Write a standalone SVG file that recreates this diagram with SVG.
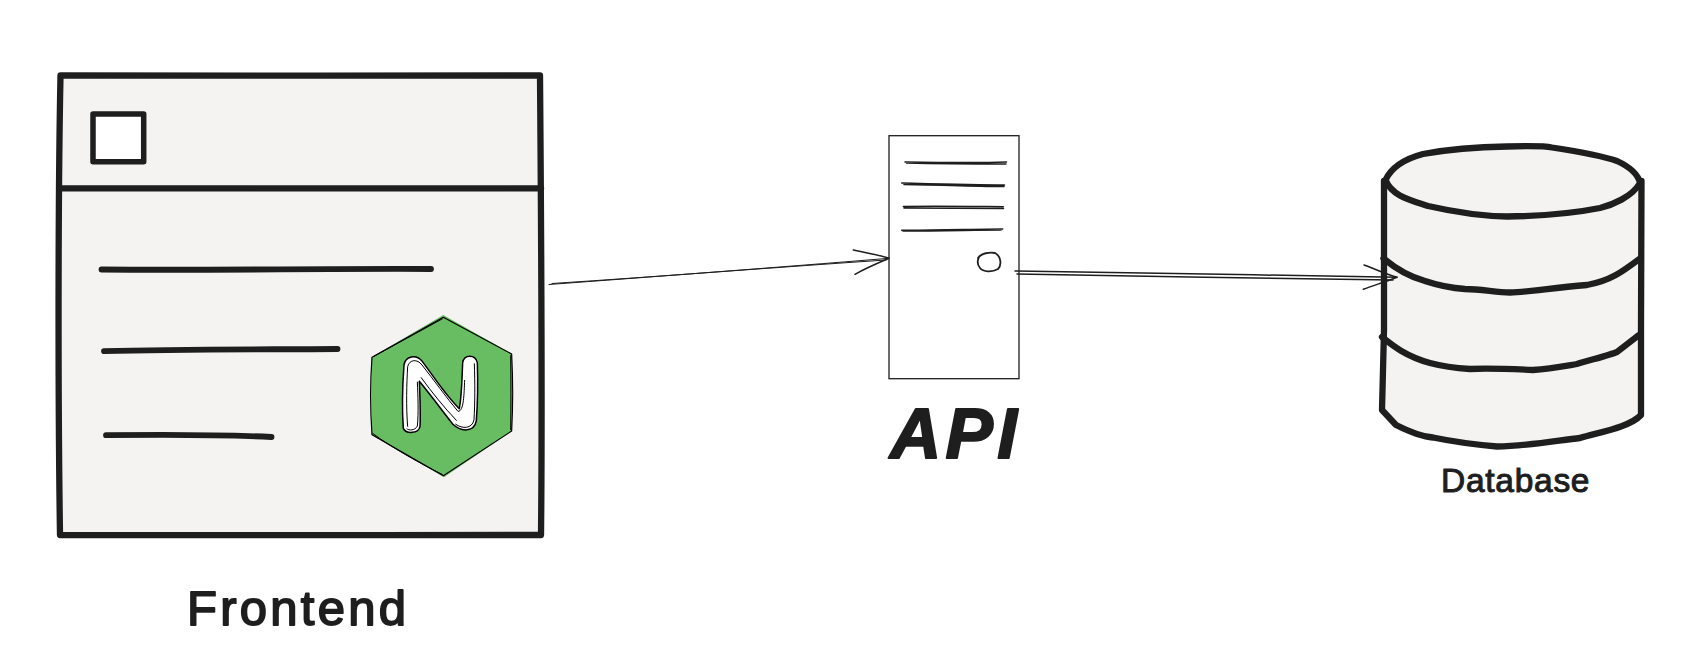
<svg xmlns="http://www.w3.org/2000/svg" width="1698" height="672" viewBox="0 0 1698 672">
<style>
.ink{fill:none;stroke:#1e1e1e;stroke-linecap:round;stroke-linejoin:round}
.thick{stroke-width:6.300}
.bar{stroke-width:5.800}
.db{stroke-width:6.300}
.thin{stroke-width:1.500}
.hair{stroke-width:1}
.panel{fill:#f4f3f1}
text{font-family:"Liberation Sans",Arial,sans-serif;fill:#1e1e1e;stroke:#1e1e1e;stroke-linejoin:round;stroke-linecap:round}
</style>
<rect width="1698" height="672" fill="#ffffff"/>
<g id="frontend">
<path class="panel" d="M60 76H540L541 535H60Z"/>
<path class="ink thick" d="M60.500 75.500C200 74.500 390 76.500 540 75.500C541 200 542.500 400 541 535C380 535.500 200 534.500 60 535C58 400 58 200 60.500 75.500Z"/>
<path class="ink thick" d="M60 188.300H541"/>
<rect x="93" y="114" width="50.700" height="47.700" fill="#ffffff" stroke="#1e1e1e" stroke-width="5.500" stroke-linejoin="round"/>
<path class="ink bar" d="M101.500 269.500C210 270.500 320 268.500 431 269"/>
<path class="ink bar" d="M104 351.200C180 349 260 349.500 337.500 349"/>
<path class="ink bar" d="M106 435.200C160 434.500 220 434.500 271.500 437"/>
<text x="187" y="625" font-size="49" stroke-width="1.800" textLength="219" lengthAdjust="spacing">Frontend</text>
</g>
<g id="nginx" transform="translate(340 300) scale(.33333)">
<path d="M310 45L516 162V393L312 532L94 404V172Z" fill="#68bd62"/>
<path fill="none" stroke="#000000" stroke-width="3.500" stroke-linejoin="round" d="M310 52L515 162C519 240 519 320 515 393L310 527L96 404C90 320 90 250 96 172Z"/>
<path fill="none" stroke="#000000" stroke-width="3" d="M308 56L100 170M98 400C150 440 240 490 308 524M512 166C513 240 513 320 512 390"/>
<path fill="#ffffff" stroke="#000000" stroke-width="4.500" stroke-linejoin="round" d="M190 385C185 320 188 250 192 195C196 168 228 162 245 182C285 235 320 290 358 326C366 280 366 230 368 188C372 162 406 162 412 188C414 250 413 310 409 362C403 396 365 398 338 372C305 330 268 280 238 244C240 290 242 340 240 380C235 402 198 402 190 385Z"/>
<path fill="none" stroke="#000000" stroke-width="3" d="M203 380C198 320 200 250 203 200C208 178 232 176 246 195C282 240 318 292 354 334C372 335 372 280 374 240M403 190C405 250 405 310 402 360C396 386 368 388 346 372M243 232C275 276 310 320 350 362M232 245C234 290 236 340 232 378C226 392 206 392 200 386"/>
</g>
<g id="api">
<rect x="889" y="135.700" width="130" height="243" fill="#ffffff" stroke="#1e1e1e" stroke-width="1.300"/>
<path class="ink thin" d="M905 162C940 162.500 975 163 1006.500 162M906.500 163C945 164 980 164 1006 164"/>
<path class="ink thin" d="M901.700 183C940 184 975 185 1004.500 185M904 184.500C945 185 980 186.500 1004 186.500"/>
<path class="ink thin" d="M903.300 206.500C940 206 975 206.500 1003.300 206.700M904 208C945 208 975 208.500 1003.500 208.500"/>
<path class="ink thin" d="M901.700 230.300C940 230.500 975 229 1002.700 229M903 231C945 231 975 230 1001 230"/>
<path class="ink" stroke-width="1.800" d="M978 258C981 253 990 252 995 253C1001 256 1002 265 998 269C992 272.500 983 272 980 268C977.500 265 977 261 979 257"/>
<text x="890" y="458" font-size="71" font-weight="700" font-style="italic" stroke-width="2" textLength="127" lengthAdjust="spacing">API</text>
</g>
<g id="database">
<path class="panel" d="M1385 181C1392 165 1410 157 1423 154C1470 146 1570 146 1620 162C1632 168 1640 175 1641 183L1641 415L1600 433L1500 447L1400 432L1382 410Z"/>
<path class="ink db" d="M1385.500 180C1392 166 1408 158 1423 154C1450 149 1475 147 1507 146.500C1525 146 1545 146 1552 147.500C1575 151 1600 155 1617 161C1630 167 1638 174 1640 183C1632 197 1612 205 1600 208C1570 214 1540 216 1507 216.500C1475 216 1450 211 1428 206C1410 200 1392 196 1385.500 180Z"/>
<path class="ink db" d="M1384 181V330L1382 410L1396 425C1410 432 1425 437 1433 437.500C1450 441 1468 444 1497 446.500C1530 446 1560 440 1580 438C1600 432 1630 427 1641 415V330L1641.500 181"/>
<path class="ink db" d="M1383.500 258.500C1395 268 1410 277 1425 281C1440 286 1450 288 1465 289C1480 289 1495 292 1510 292.500C1530 292 1550 288 1587 285C1610 281 1622 272 1640 258.500"/>
<path class="ink db" d="M1382 337C1392 345 1405 356 1430 363C1445 367 1455 368 1470 369C1490 368 1510 369 1533 370C1550 369 1565 366 1577 364C1590 360 1610 355 1617 352C1625 346 1635 338 1639 335"/>
<text x="1441" y="492" font-size="33.500" stroke-width="1" textLength="148.500" lengthAdjust="spacing">Database</text>
</g>
<g id="connectors">
<path class="ink hair" d="M549 284.500C650 277 770 268 889 258.300M552 283.500C660 276.500 780 267 886 260"/>
<path class="ink thin" d="M853.300 250C868 253 880 255 889 258.300C878 263 866 268 855 274.300"/>
<path class="ink thin" d="M1015 271C1140 273 1270 275 1397 277.300"/>
<path class="ink thin" d="M1017 274C1140 276 1270 279 1393 280"/>
<path class="ink thin" d="M1364 265C1375 269 1385 274 1397 277.300C1385 282 1375 285 1363.300 289.300"/>
</g>
</svg>
